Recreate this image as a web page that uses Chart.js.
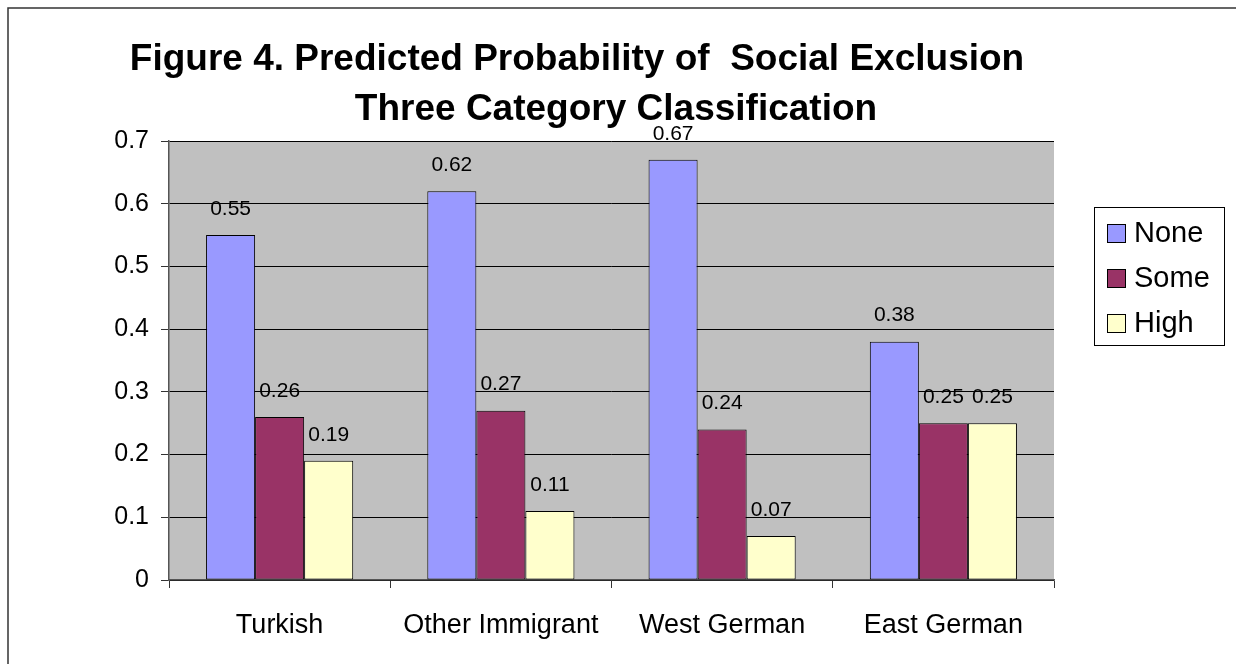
<!DOCTYPE html>
<html>
<head>
<meta charset="utf-8">
<script src="https://cdn.jsdelivr.net/npm/chart.js@4"></script>
<style>
  html, body { margin: 0; padding: 0; background: #fff; }
  #wrap { width: 1236px; height: 664px; }
</style>
</head>
<body>
<div id="wrap"><canvas id="chart" width="1236" height="664"></canvas></div>
<script>
var groups = ["Turkish", "Other Immigrant", "West German", "East German"];
var noneValues = [0.55, 0.62, 0.67, 0.38];
var someValues = [0.26, 0.27, 0.24, 0.25];
var highValues = [0.19, 0.11, 0.07, 0.25];
var yTicks = [0, 0.1, 0.2, 0.3, 0.4, 0.5, 0.6, 0.7];
var titleLines = ["Figure 4. Predicted Probability of  Social Exclusion", "Three Category Classification"];

var FONT = "Arial, 'Liberation Sans', sans-serif";

// white page, frame edge, grey plot area
var backdrop = {
  id: "backdrop",
  beforeDraw: function (chart) {
    var ctx = chart.ctx, a = chart.chartArea;
    ctx.save();
    ctx.fillStyle = "#fff";
    ctx.fillRect(0, 0, chart.width, chart.height);
    ctx.fillStyle = "#c0c0c0";
    ctx.fillRect(a.left, a.top, a.right - a.left, a.bottom - a.top);
    ctx.strokeStyle = "#333";
    ctx.lineWidth = 1.5;
    ctx.beginPath();
    ctx.moveTo(8, chart.height);
    ctx.lineTo(8, 8);
    ctx.lineTo(chart.width, 8);
    ctx.stroke();
    ctx.restore();
  }
};

// two-line heading, each line centred on its own
var heading = {
  id: "heading",
  afterDraw: function (chart) {
    var ctx = chart.ctx;
    var xs = [577, 616], ys = [60, 110];
    ctx.save();
    ctx.font = "bold 37px " + FONT;
    ctx.fillStyle = "#000";
    ctx.textAlign = "center";
    ctx.textBaseline = "middle";
    titleLines.forEach(function (line, i) { ctx.fillText(line, xs[i], ys[i]); });
    ctx.restore();
  }
};

// value printed above each bar
var barValues = {
  id: "barValues",
  afterDatasetsDraw: function (chart) {
    var ctx = chart.ctx;
    ctx.save();
    ctx.font = "21px " + FONT;
    ctx.fillStyle = "#000";
    ctx.textAlign = "center";
    ctx.textBaseline = "middle";
    chart.data.datasets.forEach(function (ds, i) {
      chart.getDatasetMeta(i).data.forEach(function (bar, j) {
        ctx.fillText(String(ds.data[j]), bar.x, bar.y - 26);
      });
    });
    ctx.restore();
  }
};

// boxed legend to the right of the plot
var boxLegend = {
  id: "boxLegend",
  afterDraw: function (chart) {
    var ctx = chart.ctx, a = chart.chartArea;
    var x = a.right + 40, y = 207, w = 130, h = 138;
    ctx.save();
    ctx.fillStyle = "#fff";
    ctx.fillRect(x, y, w, h);
    ctx.strokeStyle = "#000";
    ctx.lineWidth = 1;
    ctx.strokeRect(x + 0.5, y + 0.5, w, h);
    ctx.font = "29px " + FONT;
    ctx.textBaseline = "middle";
    chart.data.datasets.forEach(function (ds, i) {
      var cy = y + 26 + i * 45;
      ctx.fillStyle = ds.backgroundColor;
      ctx.fillRect(x + 13, cy - 9, 19, 19);
      ctx.strokeStyle = "#000";
      ctx.strokeRect(x + 13.5, cy - 8.5, 18, 18);
      ctx.fillStyle = "#000";
      ctx.fillText(ds.label, x + 40, cy + 1);
    });
    ctx.restore();
  }
};

function series(label, values, color) {
  return {
    label: label,
    data: values,
    backgroundColor: color,
    borderColor: "#000",
    borderWidth: 1,
    borderSkipped: false,
    barPercentage: 1,
    categoryPercentage: 0.665
  };
}

new Chart(document.getElementById("chart").getContext("2d"), {
  type: "bar",
  data: {
    labels: groups,
    datasets: [
      series("None", noneValues, "#9999ff"),
      series("Some", someValues, "#993366"),
      series("High", highValues, "#ffffcc")
    ]
  },
  options: {
    responsive: false,
    animation: false,
    layout: { padding: { top: 141, right: 182, bottom: 0, left: 0 } },
    plugins: {
      legend: { display: false },
      title: { display: false },
      tooltip: { enabled: false }
    },
    scales: {
      x: {
        afterFit: function (scale) { scale.height = 84; },
        grid: {
          offset: true,
          drawOnChartArea: false,
          drawTicks: true,
          tickLength: 8,
          tickColor: "#333"
        },
        border: { color: "#555", width: 1.5 },
        ticks: { color: "#000", font: { family: FONT, size: 27 }, padding: 21 }
      },
      y: {
        min: 0,
        max: 0.7,
        afterFit: function (scale) { scale.width = 169; },
        afterBuildTicks: function (scale) {
          scale.ticks = yTicks.map(function (v) { return { value: v }; });
        },
        grid: { color: "#000", lineWidth: 1, tickLength: 8, tickColor: "#333" },
        border: { color: "#555", width: 1.5 },
        ticks: {
          color: "#000",
          font: { family: FONT, size: 25 },
          padding: 12,
          callback: function (v) { return String(Math.round(v * 10) / 10); }
        }
      }
    }
  },
  plugins: [backdrop, heading, barValues, boxLegend]
});
</script>
</body>
</html>
